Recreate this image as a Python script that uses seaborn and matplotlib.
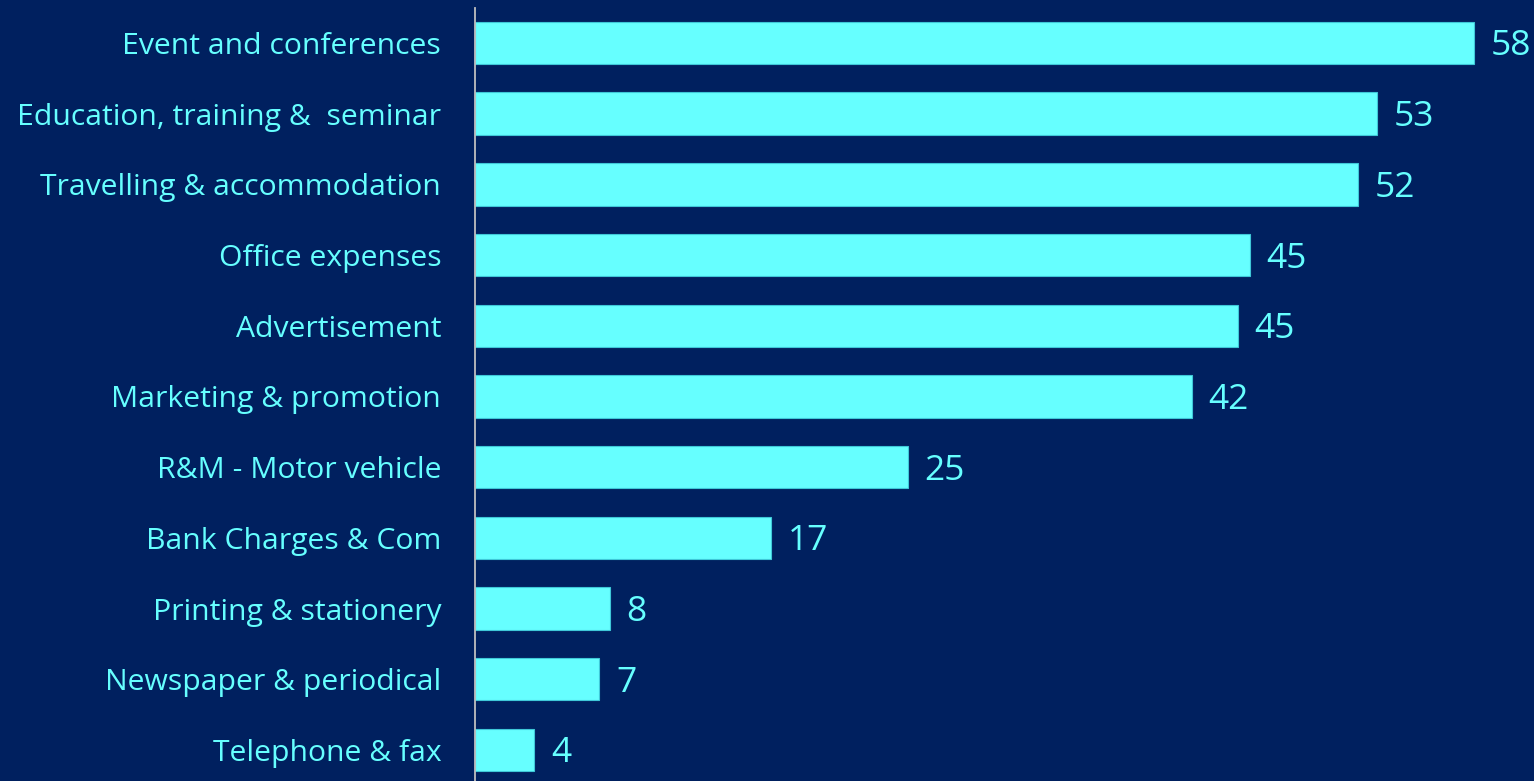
import matplotlib
matplotlib.use("Agg")
import matplotlib.pyplot as plt
import seaborn as sns
import pandas as pd

categories = [
    "Event and conferences",
    "Education, training &  seminar",
    "Travelling & accommodation",
    "Office expenses",
    "Advertisement",
    "Marketing & promotion",
    "R&M - Motor vehicle",
    "Bank Charges & Com",
    "Printing & stationery",
    "Newspaper & periodical",
    "Telephone & fax",
]
values = [58.4, 52.7, 51.6, 45.3, 44.6, 41.9, 25.3, 17.3, 7.9, 7.3, 3.5]

BG = "#00205F"
CYAN = "#66FFFF"

sns.set_theme(style="white")
plt.rcParams["font.family"] = ["Open Sans", "DejaVu Sans"]

df = pd.DataFrame({"category": categories, "value": values})

fig = plt.figure(figsize=(15.34, 7.81), dpi=100, facecolor=BG)
ax = fig.add_axes([474.5 / 1534, 0.0, 1 - 474.5 / 1534, 1 - 8 / 781])
ax.set_facecolor(BG)

sns.barplot(data=df, x="value", y="category", orient="h", color=CYAN,
            saturation=1, width=0.6, edgecolor="#3FC8D8", linewidth=0.8, ax=ax)

ax.set_xlim(0, 1059.5 / 17.12)
ax.set_ylim(10.44, -0.495)
ax.set_xlabel("")
ax.set_ylabel("")
ax.set_xticks([])
for s in ["top", "right", "bottom"]:
    ax.spines[s].set_visible(False)
ax.spines["left"].set_color("#BFBFBF")
ax.spines["left"].set_linewidth(1.3)
ax.tick_params(axis="y", length=0, pad=24, labelsize=21.7, labelcolor=CYAN)

for i, v in enumerate(values):
    ax.annotate(f"{v:.0f}", xy=(v, i), xytext=(12, -2.5), textcoords="offset points",
                ha="left", va="center", fontsize=25.5, color=CYAN)

fig.savefig("out.png", dpi=100, facecolor=BG)
